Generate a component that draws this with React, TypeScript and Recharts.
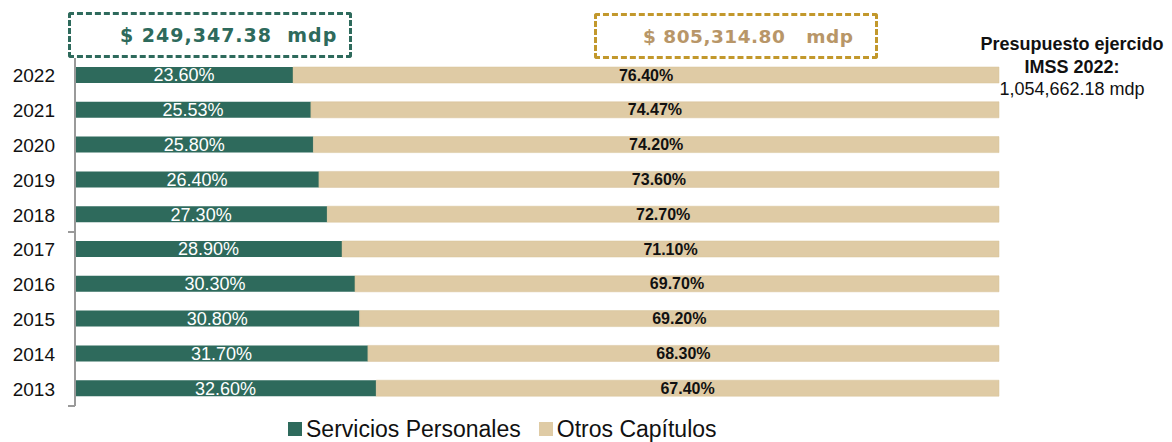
import React from "react";
import { BarChart, Bar, XAxis, YAxis, LabelList } from "recharts";

const years = ["2022", "2021", "2020", "2019", "2018", "2017", "2016", "2015", "2014", "2013"];
const serviciosPersonales = [23.6, 25.53, 25.8, 26.4, 27.3, 28.9, 30.3, 30.8, 31.7, 32.6];
const otrosCapitulos = [76.4, 74.47, 74.2, 73.6, 72.7, 71.1, 69.7, 69.2, 68.3, 67.4];
const seriesNames = ["Servicios Personales", "Otros Capítulos"];
const boxLabels = ["$ 249,347.38  mdp", "$ 805,314.80   mdp"];
const sideNote = ["Presupuesto ejercido", "IMSS 2022:", "1,054,662.18 mdp"];

const GREEN = "#2E6A5C";
const TAN = "#DFCBA5";
const seriesColors = [GREEN, TAN];

const data = years.map((y, i) => ({
  year: y,
  sp: serviciosPersonales[i],
  oc: otrosCapitulos[i],
}));

const fmt = (v: any) => `${Number(v).toFixed(2)}%`;

const YTick = (props: any) => {
  const { x, y, payload, index } = props;
  const off = payload?.offset ?? 0;
  const showMark = (index + 1) % 5 === 0;
  return (
    <g>
      <text
        x={x}
        y={y}
        dy={7}
        textAnchor="end"
        fill="#111"
        fontSize={19}
        fontFamily="'Liberation Sans', Arial, sans-serif"
      >
        {payload.value}
      </text>
      {showMark && (
        <line x1={x + 13} x2={x + 20} y1={y + off} y2={y + off} stroke="#9a9a9a" strokeWidth={2} />
      )}
    </g>
  );
};

export default function App() {
  return (
    <div style={{ position: "absolute", left: 0, top: 0, width: 1172, height: 442, background: "#fff", overflow: "hidden" }}>
      <BarChart
        width={1172}
        height={442}
        data={data}
        layout="vertical"
        margin={{ top: 58, right: 173, bottom: 36, left: 0 }}
        barCategoryGap={0}
      >
        <XAxis type="number" domain={[0, 100]} hide />
        <YAxis
          type="category"
          dataKey="year"
          width={75}
          tickSize={0}
          tickMargin={20}
          tickLine={false}
          axisLine={{ stroke: "#9a9a9a", strokeWidth: 2 }}
          tick={<YTick />}
          interval={0}
        />
        <Bar dataKey="sp" name={seriesNames[0]} stackId="a" fill={GREEN} barSize={16} isAnimationActive={false}>
          <LabelList
            dataKey="sp"
            position="center"
            formatter={fmt}
            fill="#ffffff"
            fontSize={18}
            fontFamily="'Liberation Sans', Arial, sans-serif"
          />
        </Bar>
        <Bar dataKey="oc" name={seriesNames[1]} stackId="a" fill={TAN} stroke="#d6c197" strokeWidth={0.5} barSize={16} isAnimationActive={false}>
          <LabelList
            dataKey="oc"
            position="center"
            formatter={fmt}
            fill="#111111"
            fontSize={16}
            fontWeight="bold"
            fontFamily="'Liberation Sans', Arial, sans-serif"
          />
        </Bar>
      </BarChart>

      <div
        style={{
          position: "absolute",
          left: 288,
          top: 417,
          display: "flex",
          alignItems: "center",
          fontFamily: "'Liberation Sans', Arial, sans-serif",
          fontSize: 23,
          lineHeight: "24px",
          color: "#111",
          whiteSpace: "nowrap",
        }}
      >
        {seriesNames.map((n, i) => (
          <div key={i} style={{ display: "flex", alignItems: "center", marginRight: 18 }}>
            <span style={{ display: "inline-block", width: 14, height: 14, background: seriesColors[i], marginRight: 4 }} />
            <span>{n}</span>
          </div>
        ))}
      </div>

      <div
        style={{
          position: "absolute",
          left: 68,
          top: 12,
          width: 284,
          height: 46,
          boxSizing: "border-box",
          border: `3px dashed ${GREEN}`,
          borderRadius: 3,
          display: "flex",
          alignItems: "center",
          justifyContent: "flex-start",
          color: GREEN,
          fontFamily: "'DejaVu Sans', sans-serif",
          fontWeight: "bold",
          fontSize: 19,
          letterSpacing: 1,
          whiteSpace: "pre",
          paddingLeft: 49,
        }}
      >
        {boxLabels[0]}
      </div>
      <div
        style={{
          position: "absolute",
          left: 594,
          top: 13,
          width: 284,
          height: 46,
          boxSizing: "border-box",
          border: "3px dashed #C2982C",
          borderRadius: 3,
          display: "flex",
          alignItems: "center",
          justifyContent: "flex-start",
          color: "#B89668",
          fontFamily: "'DejaVu Sans', sans-serif",
          fontWeight: "bold",
          fontSize: 18.5,
          letterSpacing: 0.5,
          whiteSpace: "pre",
          paddingLeft: 46,
        }}
      >
        {boxLabels[1]}
      </div>
      <div
        style={{
          position: "absolute",
          left: 972,
          top: 33,
          width: 200,
          textAlign: "center",
          fontFamily: "'Liberation Sans', Arial, sans-serif",
          color: "#111",
          fontSize: 18,
          lineHeight: "22.5px",
        }}
      >
        <div style={{ fontWeight: "bold" }}>{sideNote[0]}</div>
        <div style={{ fontWeight: "bold" }}>{sideNote[1]}</div>
        <div>{sideNote[2]}</div>
      </div>
    </div>
  );
}
